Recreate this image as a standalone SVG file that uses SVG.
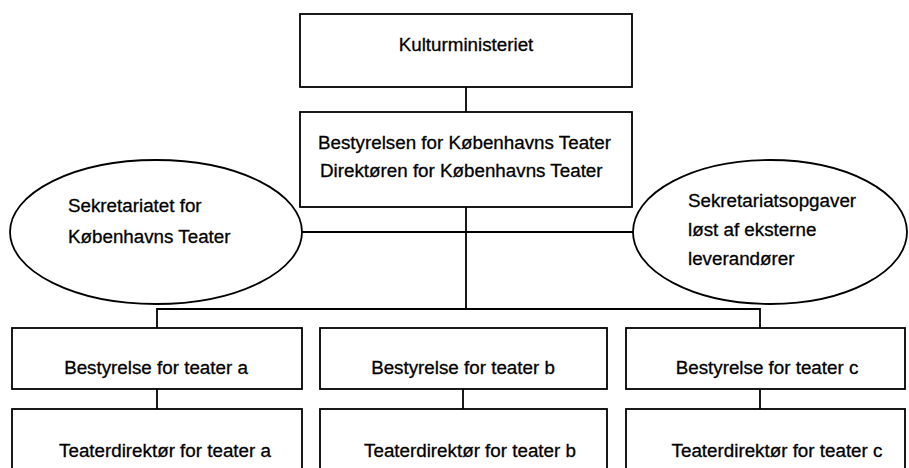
<svg xmlns="http://www.w3.org/2000/svg" width="909" height="468" viewBox="0 0 909 468">
<style>
.box{fill:#fff;stroke:#000;stroke-width:1.8}
.ell{fill:#fff;stroke:#000;stroke-width:1.8}
.con{fill:none;stroke:#000;stroke-width:1.8}
text{font-family:"Liberation Sans",Arial,sans-serif;font-size:18.8px;fill:#000;stroke:#000;stroke-width:0.3}
.c{text-anchor:middle}
</style>
<rect width="909" height="468" fill="#fff"/>
<g id="connectors">
<line class="con" x1="466" y1="87" x2="466" y2="112"/>
<line class="con" x1="466" y1="207" x2="466" y2="309"/>
<line class="con" x1="302" y1="232" x2="633" y2="232"/>
<polyline class="con" points="157,328 157,309 760,309 760,328"/>
<line class="con" x1="157" y1="389" x2="157" y2="409"/>
<line class="con" x1="463" y1="389" x2="463" y2="409"/>
<line class="con" x1="760" y1="389" x2="760" y2="409"/>
</g>
<g id="kulturministeriet">
<rect class="box" x="300" y="14" width="332" height="73"/>
<text class="c" x="466" y="51">Kulturministeriet</text>
</g>
<g id="bestyrelsen">
<rect class="box" x="300" y="112" width="332" height="95"/>
<text x="318" y="149">Bestyrelsen for Københavns Teater</text>
<text x="320" y="177">Direktøren for Københavns Teater</text>
</g>
<g id="sekretariatet">
<ellipse class="ell" cx="156" cy="232" rx="146" ry="72"/>
<text x="68" y="212">Sekretariatet for</text>
<text x="68" y="243">Københavns Teater</text>
</g>
<g id="eksterne">
<ellipse class="ell" cx="770" cy="232" rx="137" ry="72"/>
<text x="688" y="207">Sekretariatsopgaver</text>
<text x="688" y="236">løst af eksterne</text>
<text x="688" y="265">leverandører</text>
</g>
<g id="bestyrelse-a">
<rect class="box" x="12" y="328" width="290" height="61"/>
<text class="c" x="156" y="374">Bestyrelse for teater a</text>
</g>
<g id="bestyrelse-b">
<rect class="box" x="320" y="328" width="287" height="61"/>
<text class="c" x="463" y="374">Bestyrelse for teater b</text>
</g>
<g id="bestyrelse-c">
<rect class="box" x="626" y="328" width="279" height="61"/>
<text class="c" x="767" y="374">Bestyrelse for teater c</text>
</g>
<g id="direktoer-a">
<rect class="box" x="12" y="409" width="290" height="70"/>
<text class="c" x="165" y="457">Teaterdirektør for teater a</text>
</g>
<g id="direktoer-b">
<rect class="box" x="320" y="409" width="287" height="70"/>
<text class="c" x="470" y="457">Teaterdirektør for teater b</text>
</g>
<g id="direktoer-c">
<rect class="box" x="626" y="409" width="279" height="70"/>
<text class="c" x="777" y="457">Teaterdirektør for teater c</text>
</g>
</svg>
